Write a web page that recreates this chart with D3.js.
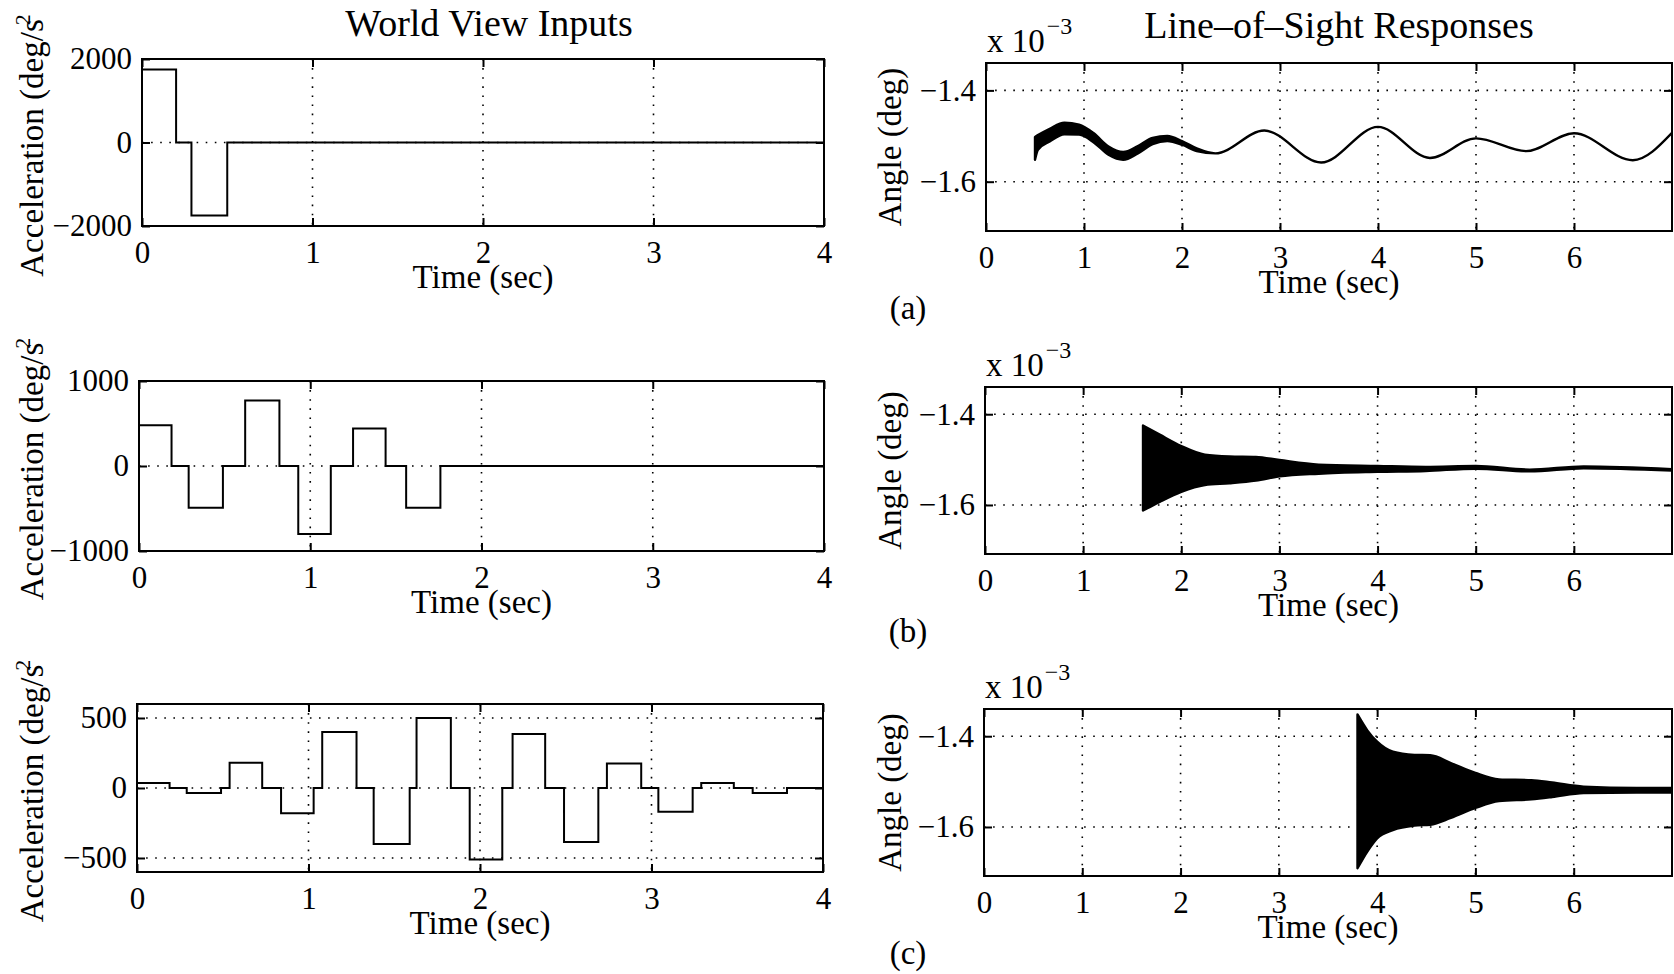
<!DOCTYPE html>
<html>
<head>
<meta charset="utf-8">
<title>World View Inputs / Line-of-Sight Responses</title>
<script src="https://d3js.org/d3.v7.min.js"></script>
<style>
  body { margin: 0; background: #fff; }
  svg text { font-family: "Liberation Serif", "Times New Roman", serif; fill: #000; }
  .frame { fill: none; stroke: #000; stroke-width: 2; }
  .grid { stroke: #000; stroke-width: 1.6; stroke-dasharray: 1.6,7.5; }
  .step { fill: none; stroke: #000; stroke-width: 2; }
  .los { fill: #000; stroke: #000; stroke-width: 2.4; stroke-linejoin: round; }
  .tick line { stroke: #000; stroke-width: 2; }
</style>
</head>
<body>
<svg width="1674" height="974"></svg>

<script>
// --- world view inputs: step acceleration (deg/s^2), held until the next time
var inTime1 = [0, 0.20, 0.29, 0.50, 4];
var inAcc1  = [1750, 0, -1750, 0, 0];

var inTime2 = [0, 0.19, 0.29, 0.49, 0.62, 0.82, 0.93, 1.12, 1.25, 1.44, 1.56, 1.76, 4];
var inAcc2  = [480, 0, -490, 0, 770, 0, -800, 0, 440, 0, -490, 0, 0];

var inTime3 = [0, 0.19, 0.29, 0.49, 0.54, 0.73, 0.84, 1.03, 1.08, 1.28, 1.38, 1.59, 1.63, 1.83,
               1.94, 2.13, 2.19, 2.38, 2.49, 2.69, 2.74, 2.94, 3.04, 3.24, 3.29, 3.48, 3.59, 3.79, 4];
var inAcc3  = [35, 0, -35, 0, 180, 0, -180, 0, 400, 0, -400, 0, 500, 0,
               -510, 0, 385, 0, -385, 0, 175, 0, -170, 0, 35, 0, -35, 0, 0];

// --- line-of-sight responses (x 10^-3 deg): upper / lower edge of the trace
var losTimeA = [0.50, 0.53, 0.65, 0.80, 0.95, 1.10, 1.25, 1.40, 1.55, 1.70, 1.85, 2.00, 2.15,
                2.34, 2.84, 3.42, 4.00, 4.53, 5.00, 5.51, 6.00, 6.60, 7.00];
var losHiA = [-1.502, -1.498, -1.484, -1.471, -1.475, -1.494, -1.523, -1.535, -1.522, -1.504, -1.500, -1.511, -1.527,
              -1.538, -1.488, -1.558, -1.480, -1.548, -1.505, -1.533, -1.494, -1.553, -1.493];
var losLoA = [-1.552, -1.530, -1.512, -1.496, -1.497, -1.514, -1.541, -1.552, -1.538, -1.518, -1.511, -1.519, -1.533,
              -1.538, -1.488, -1.558, -1.480, -1.548, -1.505, -1.533, -1.494, -1.553, -1.493];

var losTimeB = [1.61, 1.78, 2.00, 2.24, 2.49, 2.76, 3.00, 3.40, 4.00, 4.49, 5.00, 5.55, 6.10, 7.00];
var losHiB = [-1.425, -1.445, -1.470, -1.489, -1.493, -1.494, -1.501, -1.511, -1.514, -1.516, -1.514, -1.522, -1.515, -1.521];
var losLoB = [-1.612, -1.593, -1.571, -1.556, -1.552, -1.546, -1.537, -1.531, -1.527, -1.525, -1.520, -1.526, -1.519, -1.524];

var losTimeC = [3.80, 3.90, 4.00, 4.16, 4.38, 4.54, 4.75, 5.00, 5.24, 5.57, 5.78, 6.10, 6.64, 7.00];
var losHiC = [-1.352, -1.387, -1.412, -1.434, -1.441, -1.442, -1.459, -1.481, -1.495, -1.497, -1.502, -1.511, -1.514, -1.514];
var losLoC = [-1.691, -1.654, -1.625, -1.607, -1.597, -1.595, -1.580, -1.558, -1.543, -1.539, -1.534, -1.525, -1.524, -1.524];

// --- tick values
var inXTicks = [0, 1, 2, 3, 4];
var losXTicks = [0, 1, 2, 3, 4, 5, 6];
var losYTicks = [-1.6, -1.4];
var panelTags = ["(a)", "(b)", "(c)"];

var svg = d3.select('svg');
var tickFont = 31, labelFont = 33;

var leftPanels = [
  {x0: 142, x1: 824, y0: 59,  y1: 226, ymax: 2000, yticks: [-2000, 0, 2000], t: inTime1, v: inAcc1},
  {x0: 139, x1: 824, y0: 381, y1: 551, ymax: 1000, yticks: [-1000, 0, 1000], t: inTime2, v: inAcc2},
  {x0: 137, x1: 823, y0: 704, y1: 872, ymax: 600,  yticks: [-500, 0, 500],   t: inTime3, v: inAcc3}
];

var rightPanels = [
  {x0: 986, x1: 1672, y0: 63,  y1: 231, t: losTimeA, hi: losHiA, lo: losLoA},
  {x0: 985, x1: 1672, y0: 387, y1: 554, t: losTimeB, hi: losHiB, lo: losLoB},
  {x0: 984, x1: 1672, y0: 709, y1: 876, t: losTimeC, hi: losHiC, lo: losLoC}
];

function drawFrame(g, p, x, y, xticks, yticks, fmt) {
  // dotted grid
  g.selectAll('.gx').data(xticks).enter().append('line')
    .attr('class', 'grid')
    .attr('x1', function(d) { return x(d); }).attr('x2', function(d) { return x(d); })
    .attr('y1', p.y0).attr('y2', p.y1);
  g.selectAll('.gy').data(yticks).enter().append('line')
    .attr('class', 'grid')
    .attr('x1', p.x0).attr('x2', p.x1)
    .attr('y1', function(d) { return y(d); }).attr('y2', function(d) { return y(d); });

  // inward ticks on all four sides, labels bottom and left
  var bottom = g.append('g').attr('transform', 'translate(0,' + p.y1 + ')')
    .call(d3.axisBottom(x).tickValues(xticks).tickSize(-8).tickPadding(15).tickFormat(d3.format('d')));
  var left = g.append('g').attr('transform', 'translate(' + p.x0 + ',0)')
    .call(d3.axisLeft(y).tickValues(yticks).tickSize(-8).tickPadding(10).tickFormat(fmt));
  var top = g.append('g').attr('transform', 'translate(0,' + p.y0 + ')')
    .call(d3.axisTop(x).tickValues(xticks).tickSize(-8).tickFormat(''));
  var right = g.append('g').attr('transform', 'translate(' + p.x1 + ',0)')
    .call(d3.axisRight(y).tickValues(yticks).tickSize(-8).tickFormat(''));
  [bottom, left, top, right].forEach(function(a) {
    a.select('.domain').remove();
    a.attr('font-size', null).attr('font-family', null);
    a.selectAll('text').attr('font-size', tickFont);
  });

  g.append('rect').attr('class', 'frame')
    .attr('x', p.x0).attr('y', p.y0)
    .attr('width', p.x1 - p.x0).attr('height', p.y1 - p.y0);

  g.append('text')
    .attr('x', (p.x0 + p.x1) / 2).attr('y', p.y1 + 62)
    .attr('text-anchor', 'middle').attr('font-size', labelFont)
    .text('Time (sec)');
}

// ---------- left column: inputs
leftPanels.forEach(function(p, i) {
  var g = svg.append('g');
  var x = d3.scaleLinear().domain([0, 4]).range([p.x0, p.x1]);
  var y = d3.scaleLinear().domain([-p.ymax, p.ymax]).range([p.y1, p.y0]);

  drawFrame(g, p, x, y, inXTicks, p.yticks, d3.format('d'));

  var pts = p.t.map(function(t, k) { return [t, p.v[k]]; });
  var line = d3.line()
    .x(function(d) { return x(d[0]); })
    .y(function(d) { return y(d[1]); })
    .curve(d3.curveStepAfter);
  g.append('path').attr('class', 'step').attr('d', line(pts));

  var lab = g.append('text')
    .attr('transform', 'translate(31,' + ((p.y0 + p.y1) / 2 + 3) + ') rotate(-90)')
    .attr('text-anchor', 'middle').attr('dy', '0.35em')
    .attr('font-size', labelFont);
  lab.append('tspan').text('Acceleration (deg/s');
  lab.append('tspan').attr('dx', -6).attr('dy', -13).attr('font-size', 22).text('2');
});

// ---------- right column: line-of-sight responses
rightPanels.forEach(function(p, i) {
  var g = svg.append('g');
  var x = d3.scaleLinear().domain([0, 7]).range([p.x0, p.x1]);
  var y = d3.scaleLinear().domain([-1.708, -1.34]).range([p.y1, p.y0]);

  svg.append('clipPath').attr('id', 'clip' + i)
    .append('rect').attr('x', p.x0).attr('y', p.y0)
    .attr('width', p.x1 - p.x0).attr('height', p.y1 - p.y0);

  drawFrame(g, p, x, y, losXTicks, losYTicks, d3.format('.1f'));

  var rows = p.t.map(function(t, k) { return {t: t, hi: p.hi[k], lo: p.lo[k]}; });
  var area = d3.area()
    .x(function(d) { return x(d.t); })
    .y0(function(d) { return y(d.lo); })
    .y1(function(d) { return y(d.hi); })
    .curve(d3.curveMonotoneX);
  g.append('path').attr('class', 'los')
    .attr('clip-path', 'url(#clip' + i + ')')
    .attr('d', area(rows));

  var sci = g.append('text')
    .attr('x', p.x0 + 1).attr('y', p.y0 - 11)
    .attr('font-size', labelFont);
  sci.append('tspan').text('x 10');
  sci.append('tspan').attr('dx', 2).attr('dy', -18).attr('font-size', 24).text('\u22123');

  g.append('text')
    .attr('transform', 'translate(889,' + ((p.y0 + p.y1) / 2) + ') rotate(-90)')
    .attr('text-anchor', 'middle').attr('dy', '0.35em')
    .attr('font-size', labelFont)
    .text('Angle (deg)');

  g.append('text')
    .attr('x', 908).attr('y', p.y1 + 88)
    .attr('text-anchor', 'middle').attr('font-size', labelFont)
    .text(panelTags[i]);
});

// column titles
svg.append('text').attr('x', 489).attr('y', 36)
  .attr('text-anchor', 'middle').attr('font-size', 38)
  .text('World View Inputs');
svg.append('text').attr('x', 1339).attr('y', 38)
  .attr('text-anchor', 'middle').attr('font-size', 38)
  .text('Line\u2013of\u2013Sight Responses');
</script>
</body>
</html>
